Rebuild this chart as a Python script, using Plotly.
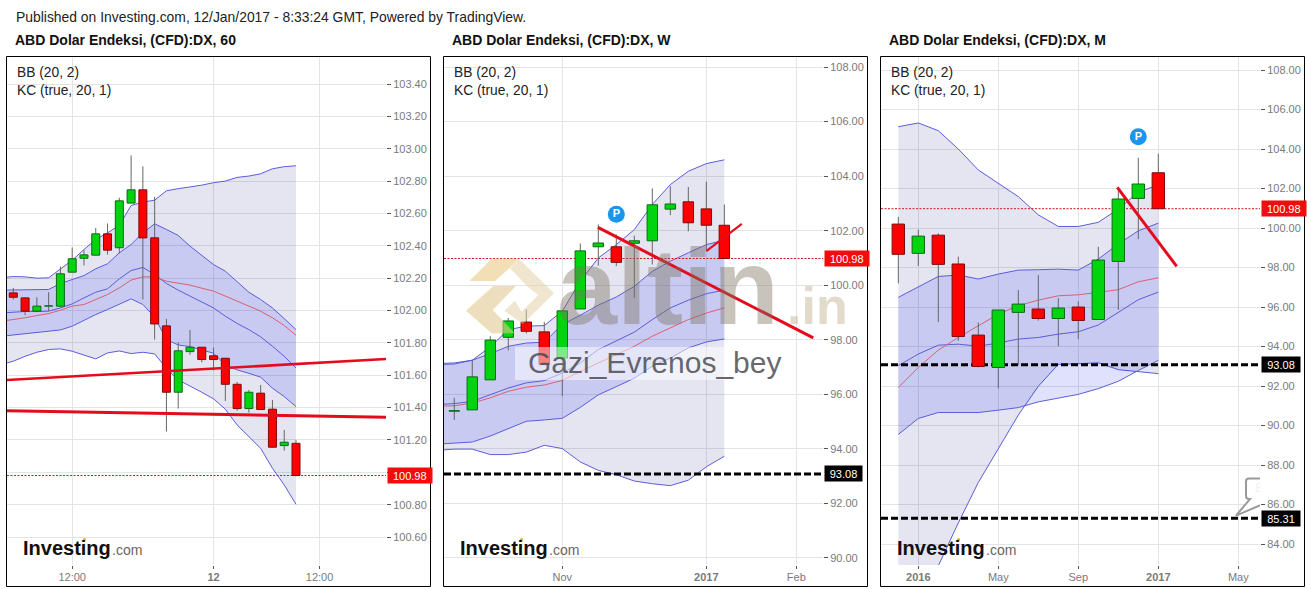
import plotly.graph_objects as go

W, H = 1311, 589

PUBLISHED = "Published on Investing.com, 12/Jan/2017 - 8:33:24 GMT, Powered by TradingView."
TITLES = ["ABD Dolar Endeksi, (CFD):DX, 60", "ABD Dolar Endeksi, (CFD):DX, W", "ABD Dolar Endeksi, (CFD):DX, M"]

# ---------- hourly panel ----------
P1_OPEN = [102.109,102.078,101.996,102.027,102.027,102.237,102.323,102.342,102.474,102.388,102.664,102.746,102.449,101.905,101.495,101.746,101.773,101.72,101.705,101.544,101.394,101.489,101.39,101.165,101.179]
P1_HIGH = [102.14,102.082,102.082,102.113,102.272,102.39,102.373,102.51,102.538,102.697,102.959,102.891,102.703,101.948,101.804,101.88,101.773,101.771,101.705,101.559,101.509,101.54,101.447,101.262,101.2]
P1_LOW = [102.068,101.971,101.99,101.996,102.02,102.235,102.278,102.34,102.346,102.353,102.664,102.068,101.82,101.252,101.394,101.726,101.68,101.629,101.441,101.381,101.369,101.388,101.155,101.134,100.975]
P1_CLOSE = [102.082,101.996,102.027,102.029,102.227,102.32,102.344,102.474,102.373,102.678,102.746,102.449,101.917,101.495,101.751,101.773,101.697,101.697,101.544,101.394,101.495,101.388,101.155,101.186,100.98]
P1_BB_UP = [102.202,102.21,102.208,102.2,102.202,102.254,102.311,102.377,102.439,102.48,102.526,102.649,102.67,102.682,102.74,102.753,102.763,102.775,102.79,102.8,102.823,102.831,102.845,102.876,102.889,102.895]
P1_KC_UP = [102.126,102.126,102.126,102.126,102.13,102.167,102.192,102.216,102.258,102.289,102.357,102.408,102.48,102.536,102.501,102.464,102.398,102.34,102.284,102.243,102.175,102.113,102.068,102.016,101.95,101.882]
P1_BB_MID = [101.985,101.99,101.994,101.994,101.996,102.016,102.041,102.078,102.113,102.134,102.196,102.247,102.266,102.223,102.167,102.126,102.089,102.054,102.016,101.965,101.92,101.882,101.837,101.779,101.717,101.645]
P1_KC_MID = [101.934,101.944,101.955,101.969,101.981,102.002,102.027,102.037,102.068,102.099,102.14,102.188,102.208,102.208,102.181,102.171,102.157,102.138,102.12,102.089,102.058,102.027,101.996,101.955,101.907,101.847]
P1_KC_LOW = [101.841,101.849,101.858,101.866,101.872,101.88,101.903,101.94,101.975,102.006,102.037,102.072,102.037,101.96,101.82,101.787,101.777,101.757,101.736,101.664,101.633,101.612,101.588,101.52,101.468,101.406]
P1_BB_LOW = [101.666,101.687,101.717,101.742,101.759,101.763,101.748,101.724,101.701,101.738,101.75,101.734,101.742,101.732,101.643,101.571,101.534,101.495,101.454,101.39,101.293,101.221,101.148,101.025,100.922,100.802]
P1_TREND_A_Y = [101.57, 101.70]
P1_TREND_B_Y = [101.38, 101.34]
P1_XTICKS = [5, 17, 26]
P1_XLABELS = ["12:00", "<b>12</b>", "12:00"]
P1_YTICKS = [100.6,100.8,101.0,101.2,101.4,101.6,101.8,102.0,102.2,102.4,102.6,102.8,103.0,103.2,103.4]
P1_YLABELS = ["100.60","100.80","","101.20","101.40","101.60","101.80","102.00","102.20","102.40","102.60","102.80","103.00","103.20","103.40"]

# ---------- weekly panel ----------
P2_OPEN = [95.38,95.43,96.53,98.09,98.65,98.29,97.33,99.13,101.41,101.41,101.54,101.63,102.79,103.06,102.8,102.2]
P2_HIGH = [95.87,97.27,98.13,98.8,99.11,98.65,99.06,101.53,102.23,101.86,101.82,103.55,103.63,103.6,103.8,102.96]
P2_LOW = [95.06,95.43,96.53,97.61,98.23,97.09,95.93,99.13,100.72,100.7,99.54,100.76,102.57,101.98,101.25,100.98]
P2_CLOSE = [95.4,96.64,97.99,98.69,98.31,97.09,99.06,101.26,101.55,100.84,101.63,102.95,102.98,102.29,102.2,100.98]
P2_BB_UP = [97.13,97.15,97.25,97.74,98.37,98.5,98.52,99.05,100.15,101.0,101.49,102.04,102.96,103.69,104.18,104.46,104.6]
P2_KC_UP = [97.09,97.11,97.25,97.49,97.76,97.88,97.91,98.56,98.9,99.27,99.57,99.96,100.51,100.88,101.19,101.49,101.65]
P2_BB_MID = [95.62,95.66,95.74,95.99,96.23,96.42,96.5,96.78,97.15,97.64,97.95,98.28,98.74,99.17,99.45,99.69,99.82]
P2_KC_MID = [95.56,95.58,95.68,95.87,96.11,96.26,96.34,96.51,96.84,97.15,97.46,97.76,98.13,98.43,98.74,98.98,99.17]
P2_KC_LOW = [94.17,94.2,94.25,94.47,94.75,95.01,95.06,95.12,95.52,95.98,96.28,96.59,97.03,97.33,97.7,97.92,98.03]
P2_BB_LOW = [93.94,93.99,93.99,93.79,93.79,93.88,94.13,94.01,93.52,93.21,93.05,92.82,92.72,92.65,92.85,93.34,93.73]
P2_TREND_A_X, P2_TREND_A_Y = [7.98, 19.94], [102.12, 98.07]
P2_TREND_B_X, P2_TREND_B_Y = [14.0, 15.97], [101.25, 102.25]
P2_PIN = (9, 102.6)
P2_XTICKS = [6, 14, 19]
P2_XLABELS = ["Nov", "<b>2017</b>", "Feb"]

# ---------- monthly panel ----------
P3_OPEN = [100.2,98.72,99.64,98.18,94.58,92.94,95.73,95.9,95.42,96.0,95.37,98.31,101.5,102.8]
P3_HIGH = [100.57,99.92,99.73,98.55,95.22,95.85,96.86,97.62,96.45,96.29,99.05,101.89,103.56,103.76]
P3_LOW = [97.2,98.08,95.24,94.29,92.94,91.88,93.06,95.31,94.02,94.38,95.37,95.86,99.44,100.98]
P3_CLOSE = [98.67,99.59,98.16,94.51,92.99,95.85,96.15,95.42,95.95,95.32,98.38,101.47,102.23,100.98]
P3_BB_UP = [105.13,105.32,104.93,104.0,102.94,102.26,101.59,100.67,100.08,100.08,100.29,100.96,101.81,102.19]
P3_KC_UP = [96.49,97.0,97.55,97.62,97.42,97.67,97.87,97.89,97.92,97.87,98.43,99.19,99.86,100.25]
P3_BB_MID = [93.03,93.62,94.07,94.12,94.02,94.18,94.38,94.46,94.63,94.75,95.09,95.73,96.37,96.76]
P3_KC_MID = [91.93,92.94,93.82,94.46,95.05,95.64,96.07,96.35,96.57,96.62,96.74,96.88,97.28,97.48]
P3_KC_LOW = [89.55,90.36,90.66,90.66,90.66,90.78,90.91,91.2,91.4,91.58,91.87,92.24,92.79,93.3]
P3_BB_LOW = [80.6,81.6,82.9,85.07,87.12,88.85,90.53,91.99,93.1,93.13,93.18,92.83,92.74,92.63]
P3_TREND_X, P3_TREND_Y = [10.95, 13.92], [102.06, 98.06]
P3_PIN = (12, 104.62)
P3_XTICKS = [1, 5, 9, 13, 17]
P3_XLABELS = ["<b>2016</b>", "May", "Sep", "<b>2017</b>", "May"]

LAST_PRICE = 100.98
SUPPORT_A = 93.08
SUPPORT_B = 85.31

GREEN, GREEN_EDGE = "#00d40f", "#0b6a18"
RED, RED_EDGE = "#ff0000", "#7c0c0c"
BB_FILL = "rgba(22,30,140,0.115)"
KC_FILL = "rgba(9,24,240,0.13)"
BAND_LINE = "#5c5cdc"
MID_LINE = "#dc6070"
TREND = "#e40c1c"
GRID = "#e4e4e4"
AXIS = "#555555"
TICK = "#7a7a7a"
FONT = "Liberation Sans, Arial, sans-serif"


def X(px):
    return px / W


def Y(py):
    return 1 - py / H


fig = go.Figure()

PANELS = [
    dict(s="", left=7, right=386, xr=[-0.535, 31.64], yr=[100.427, 103.567], dtick=0.2, bw=0.68,
         o=P1_OPEN, h=P1_HIGH, l=P1_LOW, c=P1_CLOSE, start=-1,
         bb_up=P1_BB_UP, kc_up=P1_KC_UP, bb_mid=P1_BB_MID, kc_mid=P1_KC_MID, kc_low=P1_KC_LOW, bb_low=P1_BB_LOW,
         xt=P1_XTICKS, xl=P1_XLABELS, levels=[]),
    dict(s="2", left=444, right=823, xr=[-0.57, 20.48], yr=[89.74, 108.37], dtick=2, bw=0.58,
         o=P2_OPEN, h=P2_HIGH, l=P2_LOW, c=P2_CLOSE, start=-1,
         bb_up=P2_BB_UP, kc_up=P2_KC_UP, bb_mid=P2_BB_MID, kc_mid=P2_KC_MID, kc_low=P2_KC_LOW, bb_low=P2_BB_LOW,
         xt=P2_XTICKS, xl=P2_XLABELS, levels=[SUPPORT_A]),
    dict(s="3", left=881, right=1260, xr=[-0.865, 18.085], yr=[82.94, 108.66], dtick=2, bw=0.62,
         o=P3_OPEN, h=P3_HIGH, l=P3_LOW, c=P3_CLOSE, start=0,
         bb_up=P3_BB_UP, kc_up=P3_KC_UP, bb_mid=P3_BB_MID, kc_mid=P3_KC_MID, kc_low=P3_KC_LOW, bb_low=P3_BB_LOW,
         xt=P3_XTICKS, xl=P3_XLABELS, levels=[SUPPORT_A, SUPPORT_B]),
]

shapes, annotations = [], []
layout_axes = {}

for k, p in enumerate(PANELS):
    xa, ya = "x" + p["s"], "y" + p["s"]
    n = len(p["o"])
    xs = list(range(n))
    bx = list(range(p["start"], n))

    common = dict(xaxis=xa, yaxis=ya, showlegend=False, hoverinfo="skip")

    fig.add_trace(go.Scatter(x=bx, y=p["bb_up"], mode="lines", line=dict(color=BAND_LINE, width=1), zorder=0, **common))
    fig.add_trace(go.Scatter(x=bx, y=p["bb_low"], mode="lines", line=dict(color=BAND_LINE, width=1), fill="tonexty", fillcolor=BB_FILL, zorder=0, **common))
    fig.add_trace(go.Scatter(x=bx, y=p["kc_up"], mode="lines", line=dict(color=BAND_LINE, width=1), zorder=0, **common))
    fig.add_trace(go.Scatter(x=bx, y=p["kc_low"], mode="lines", line=dict(color=BAND_LINE, width=1), fill="tonexty", fillcolor=KC_FILL, zorder=0, **common))
    fig.add_trace(go.Scatter(x=bx, y=p["bb_mid"], mode="lines", line=dict(color=BAND_LINE, width=1), zorder=0, **common))
    fig.add_trace(go.Scatter(x=bx, y=p["kc_mid"], mode="lines", line=dict(color=MID_LINE, width=1), zorder=0, **common))

    # last price and support levels
    fig.add_trace(go.Scatter(x=p["xr"], y=[LAST_PRICE, LAST_PRICE], mode="lines",
                             line=dict(color="#d0141e", width=1, dash="2px,1.5px"), zorder=1, **common))
    for lv in p["levels"]:
        fig.add_trace(go.Scatter(x=p["xr"], y=[lv, lv], mode="lines",
                                 line=dict(color="#000000", width=3, dash="7px,3px"), zorder=1, **common))

    # wicks
    wx, wy = [], []
    for i in xs:
        wx += [i, i, None]
        wy += [p["l"][i], p["h"][i], None]
    fig.add_trace(go.Scatter(x=wx, y=wy, mode="lines", line=dict(color="#666666", width=1), zorder=2, **common))

    # bodies
    up = [c >= o for o, c in zip(p["o"], p["c"])]
    fig.add_trace(go.Bar(x=xs, base=p["o"], y=[c - o for o, c in zip(p["o"], p["c"])], width=p["bw"],
                         marker=dict(color=[GREEN if u else RED for u in up],
                                     line=dict(color=[GREEN_EDGE if u else RED_EDGE for u in up], width=1)),
                         zorder=3, **common))

    layout_axes["xaxis" + p["s"]] = dict(
        domain=[X(p["left"]), X(p["right"])], range=p["xr"], anchor=ya, tickmode="array",
        tickvals=p["xt"], ticktext=p["xl"], showgrid=True, gridcolor=GRID, gridwidth=1, zeroline=False,
        showline=True, linecolor=AXIS, linewidth=1, ticks="outside", ticklen=3, tickcolor=AXIS,
        ticklabelstandoff=-1, tickfont=dict(family=FONT, size=11, color=TICK))
    layout_axes["yaxis" + p["s"]] = dict(
        domain=[Y(565), Y(57)], range=p["yr"], anchor=xa, side="right", dtick=p["dtick"], tickformat=".2f",
        showgrid=True, gridcolor=GRID, gridwidth=1, zeroline=False,
        showline=True, linecolor=AXIS, linewidth=1, ticks="outside", ticklen=4, tickcolor=AXIS,
        tickfont=dict(family=FONT, size=11, color=TICK))

layout_axes["yaxis"].update(tickmode="array", tickvals=P1_YTICKS, ticktext=P1_YLABELS)

# trend lines
TR = dict(mode="lines", showlegend=False, hoverinfo="skip", zorder=4)
fig.add_trace(go.Scatter(x=PANELS[0]["xr"], y=P1_TREND_A_Y, xaxis="x", yaxis="y", line=dict(color=TREND, width=2.5), **TR))
fig.add_trace(go.Scatter(x=PANELS[0]["xr"], y=P1_TREND_B_Y, xaxis="x", yaxis="y", line=dict(color=TREND, width=3), **TR))
fig.add_trace(go.Scatter(x=P2_TREND_A_X, y=P2_TREND_A_Y, xaxis="x2", yaxis="y2", line=dict(color=TREND, width=3), **TR))
fig.add_trace(go.Scatter(x=P2_TREND_B_X, y=P2_TREND_B_Y, xaxis="x2", yaxis="y2", line=dict(color=TREND, width=2), **TR))
fig.add_trace(go.Scatter(x=P3_TREND_X, y=P3_TREND_Y, xaxis="x3", yaxis="y3", line=dict(color=TREND, width=3), **TR))

# "P" pins
for (px_, py_), xa, ya in ((P2_PIN, "x2", "y2"), (P3_PIN, "x3", "y3")):
    fig.add_trace(go.Scatter(x=[px_], y=[py_], xaxis=xa, yaxis=ya, mode="markers+text", text=["<b>P</b>"],
                             textposition="middle center", textfont=dict(family=FONT, size=11, color="white"),
                             marker=dict(size=17, color="#1b95ee"), showlegend=False, hoverinfo="skip", zorder=5))

# callout in the monthly panel, cut by the axis


def cx(px):
    return (px - 898.3) / 20


def cy(py):
    return 108 - (py - 70) / 19.75


call_path = "M {} {} L {} {} Q {} {} {} {} L {} {} Q {} {} {} {} L {} {} L {} {} L {} {}".format(
    cx(1275), cy(478.5), cx(1249), cy(478.5), cx(1246), cy(478.5), cx(1246), cy(481.5),
    cx(1246), cy(496), cx(1246), cy(499), cx(1249), cy(499), cx(1250), cy(499), cx(1236), cy(515.5), cx(1275), cy(499))
shapes.append(dict(type="path", path=call_path, xref="x3", yref="y3", line=dict(color="#9a9a9a", width=2),
                   fillcolor="rgba(255,255,255,0.85)", layer="above"))
fig.add_trace(go.Scatter(x=[cx(1255)], y=[cy(489)], xaxis="x3", yaxis="y3", mode="text", text=["85"],
                         textposition="middle right", textfont=dict(family=FONT, size=12, color="#8a8a8a"),
                         showlegend=False, hoverinfo="skip", zorder=6))

# frames around the panels
for left, right in ((6.5, 430.5), (443.5, 867.5), (880.5, 1304.5)):
    shapes.append(dict(type="rect", xref="paper", yref="paper", x0=X(left), x1=X(right), y0=Y(586.5), y1=Y(56.5),
                       line=dict(color="#000000", width=1), fillcolor="rgba(0,0,0,0)", layer="above"))


def txt(x, y, s, size, color="#222222", anchor="left", yanchor="middle", **kw):
    annotations.append(dict(xref="paper", yref="paper", x=X(x), y=Y(y), text=s, showarrow=False, xanchor=anchor,
                            yanchor=yanchor, font=dict(family=FONT, size=size, color=color), align="left",
                            borderpad=0, **kw))


txt(15, 17, PUBLISHED, 13.9)
for title, x0 in zip(TITLES, (14, 451, 888)):
    txt(x0, 40, "<b>" + title + "</b>", 14, "#111111")
for x0 in (16, 453, 890):
    txt(x0, 72, "BB (20, 2)", 13.8)
    txt(x0, 90, "KC (true, 20, 1)", 13.8)

# Investing.com marks
for x0 in (22, 459, 896):
    txt(x0, 548, "<b>Investing</b>", 20, "#111111")
    txt(x0 + 89, 550, ".com", 14, "#666666")
    shapes.append(dict(type="circle", xref="paper", yref="paper", x0=X(x0 + 61), x1=X(x0 + 64), y0=Y(541), y1=Y(538),
                       fillcolor="#f2a71f", line=dict(width=0), layer="above"))


# price labels
def price_label(x0, width, yref, value, bg):
    annotations.append(dict(xref="paper", yref=yref, x=X(x0), y=value, text="{:.2f}".format(value), showarrow=False,
                            xanchor="left", yanchor="middle", width=width, height=15, bgcolor=bg, borderpad=0,
                            font=dict(family=FONT, size=11, color="#ffffff"), align="center", valign="middle"))


price_label(386.5, 43.5, "y", LAST_PRICE, "#f40b0b")
price_label(823.5, 43.5, "y2", LAST_PRICE, "#f40b0b")
price_label(1260.5, 43.5, "y3", LAST_PRICE, "#f40b0b")
price_label(823.5, 37, "y2", SUPPORT_A, "#000000")
price_label(1260.5, 38, "y3", SUPPORT_A, "#000000")
price_label(1260.5, 38, "y3", SUPPORT_B, "#000000")


# altin.in watermark on the weekly panel
def logo(points, fill):
    path = "M " + " L ".join("{:.5f} {:.5f}".format(X(460 + a / 3), Y(250 + b / 3)) for a, b in points) + " Z"
    shapes.append(dict(type="path", path=path, xref="paper", yref="paper", fillcolor=fill, line=dict(width=0), layer="above"))


LOGO_TOP = [(28, 93), (95, 26), (178, 26), (148, 55), (105, 93)]
LOGO_RIGHT = [(150, 55), (178, 28), (282, 130), (188, 222), (133, 182), (165, 152), (185, 185), (235, 135), (205, 112)]
LOGO_LEFT = [(18, 182), (100, 108), (168, 108), (98, 180), (165, 250), (95, 250)]
logo(LOGO_TOP, "rgba(232,196,120,0.55)")
logo(LOGO_RIGHT, "rgba(225,203,160,0.5)")
logo(LOGO_LEFT, "rgba(225,200,145,0.6)")
shapes.append(dict(type="rect", xref="paper", yref="paper", x0=X(515), x1=X(790), y0=Y(380), y1=Y(347),
                   fillcolor="rgba(255,255,255,0.5)", line=dict(width=0), layer="above"))
txt(556, 348, "<b>altin</b>", 108, "rgba(125,115,95,0.42)", yanchor="bottom")
txt(786, 336, "<b>.in</b>", 52, "rgba(185,170,130,0.42)", yanchor="bottom")
txt(527, 362, "Gazi_Evrenos_bey", 30, "rgba(70,70,75,0.82)")

fig.update_layout(
    width=W, height=H, margin=dict(l=0, r=0, t=0, b=0, pad=0), autosize=False,
    paper_bgcolor="#ffffff", plot_bgcolor="#ffffff", barmode="overlay", showlegend=False,
    hovermode=False, font=dict(family=FONT), shapes=shapes, annotations=annotations, **layout_axes)

fig.write_html("out.html", config={"displayModeBar": False},
               post_script="document.body.style.margin='0';document.body.style.overflow='hidden';")
